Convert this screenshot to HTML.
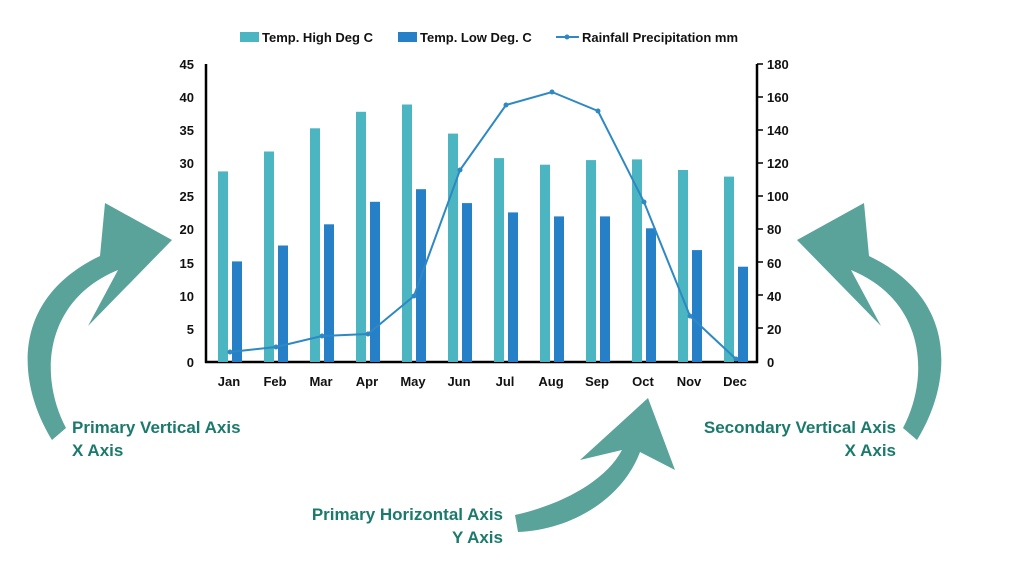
<!DOCTYPE html>
<html><head><meta charset="utf-8"><style>
html,body{margin:0;padding:0;background:#fff;}
svg{display:block;font-family:"Liberation Sans",Arial,sans-serif;}
</style></head><body>
<svg width="1024" height="576" viewBox="0 0 1024 576" xmlns="http://www.w3.org/2000/svg">
<!-- legend -->
<rect x="240" y="32" width="19" height="10" fill="#4bb5c1"/>
<text x="262" y="42" font-size="13" font-weight="bold" fill="#111">Temp. High Deg C</text>
<rect x="398" y="32" width="19" height="10" fill="#2680c8"/>
<text x="420" y="42" font-size="13" font-weight="bold" fill="#111">Temp. Low Deg. C</text>
<line x1="556" y1="37" x2="579" y2="37" stroke="#2e88c4" stroke-width="2"/>
<circle cx="567" cy="37" r="2.5" fill="#2e88c4"/>
<text x="582" y="42" font-size="13" font-weight="bold" fill="#111">Rainfall Precipitation mm</text>
<g id="bars"></g>
<!-- axes -->
<line x1="206" y1="64" x2="206" y2="363" stroke="#000" stroke-width="2.5"/>
<line x1="205" y1="362" x2="758" y2="362" stroke="#000" stroke-width="2.5"/>
<line x1="757" y1="64" x2="757" y2="363" stroke="#000" stroke-width="2.5"/>
<g font-size="13" font-weight="bold" fill="#111" text-anchor="end">
<text x="194" y="367">0</text><text x="194" y="334">5</text><text x="194" y="301">10</text><text x="194" y="268">15</text><text x="194" y="234">20</text><text x="194" y="201">25</text><text x="194" y="168">30</text><text x="194" y="135">35</text><text x="194" y="102">40</text><text x="194" y="69">45</text>
</g>
<g stroke="#000" stroke-width="1.5">
<line x1="757" y1="64" x2="763" y2="64"/><line x1="757" y1="97" x2="763" y2="97"/><line x1="757" y1="130" x2="763" y2="130"/><line x1="757" y1="163" x2="763" y2="163"/><line x1="757" y1="196" x2="763" y2="196"/><line x1="757" y1="229" x2="763" y2="229"/><line x1="757" y1="262" x2="763" y2="262"/><line x1="757" y1="295" x2="763" y2="295"/><line x1="757" y1="328" x2="763" y2="328"/>
</g>
<g font-size="13" font-weight="bold" fill="#111" text-anchor="start">
<text x="767" y="367">0</text><text x="767" y="334">20</text><text x="767" y="301">40</text><text x="767" y="268">60</text><text x="767" y="234">80</text><text x="767" y="201">100</text><text x="767" y="168">120</text><text x="767" y="135">140</text><text x="767" y="102">160</text><text x="767" y="69">180</text>
</g>
<g font-size="13" font-weight="bold" fill="#111" text-anchor="middle">
<text x="229" y="386">Jan</text><text x="275" y="386">Feb</text><text x="321" y="386">Mar</text><text x="367" y="386">Apr</text><text x="413" y="386">May</text><text x="459" y="386">Jun</text><text x="505" y="386">Jul</text><text x="551" y="386">Aug</text><text x="597" y="386">Sep</text><text x="643" y="386">Oct</text><text x="689" y="386">Nov</text><text x="735" y="386">Dec</text>
</g>
<!-- bars: high -->
<g fill="#4bb5c1">
<rect x="218" y="171.4" width="10" height="190.6"/>
<rect x="264" y="151.5" width="10" height="210.5"/>
<rect x="310" y="128.3" width="10" height="233.7"/>
<rect x="356" y="111.8" width="10" height="250.2"/>
<rect x="402" y="104.5" width="10" height="257.5"/>
<rect x="448" y="133.6" width="10" height="228.4"/>
<rect x="494" y="158.1" width="10" height="203.9"/>
<rect x="540" y="164.7" width="10" height="197.3"/>
<rect x="586" y="160.1" width="10" height="201.9"/>
<rect x="632" y="159.4" width="10" height="202.6"/>
<rect x="678" y="170.0" width="10" height="192.0"/>
<rect x="724" y="176.6" width="10" height="185.4"/>
</g>
<g fill="#2680c8">
<rect x="232" y="261.4" width="10" height="100.6"/>
<rect x="278" y="245.5" width="10" height="116.5"/>
<rect x="324" y="224.3" width="10" height="137.7"/>
<rect x="370" y="201.8" width="10" height="160.2"/>
<rect x="416" y="189.2" width="10" height="172.8"/>
<rect x="462" y="203.1" width="10" height="158.9"/>
<rect x="508" y="212.4" width="10" height="149.6"/>
<rect x="554" y="216.4" width="10" height="145.6"/>
<rect x="600" y="216.4" width="10" height="145.6"/>
<rect x="646" y="228.3" width="10" height="133.7"/>
<rect x="692" y="250.1" width="10" height="111.9"/>
<rect x="738" y="266.7" width="10" height="95.3"/>
</g>
<polyline fill="none" stroke="#2e88c4" stroke-width="2" points="230,352 276,347 322,336 368,334 414,296 460,170 506,105 552,92 598,111 644,202 690,316 736,359"/>
<g fill="#2e88c4">
<circle cx="230" cy="352" r="2.5"/><circle cx="276" cy="347" r="2.5"/><circle cx="322" cy="336" r="2.5"/><circle cx="368" cy="334" r="2.5"/><circle cx="414" cy="296" r="2.5"/><circle cx="460" cy="170" r="2.5"/><circle cx="506" cy="105" r="2.5"/><circle cx="552" cy="92" r="2.5"/><circle cx="598" cy="111" r="2.5"/><circle cx="644" cy="202" r="2.5"/><circle cx="690" cy="316" r="2.5"/><circle cx="736" cy="359" r="2.5"/>
</g>
<!-- arrows -->
<path id="la" fill="#5aa39a" d="M52,440 C18,385 8,300 100,256 L105,203 L172,240 L88,326 L118,270 C45,300 38,375 66,428 Z"/>
<path fill="#5aa39a" transform="translate(969,0) scale(-1,1)" d="M52,440 C18,385 8,300 100,256 L105,203 L172,240 L88,326 L118,270 C45,300 38,375 66,428 Z"/>
<path fill="#5aa39a" d="M515,515 C560,505 605,482 622,450 L580,460 L648,398 L675,470 L640,452 C622,500 570,530 518,532 Z"/>
<g font-size="17" font-weight="bold" fill="#1b7a6b">
<text x="72" y="433">Primary Vertical Axis</text>
<text x="72" y="456">X Axis</text>
<text x="896" y="433" text-anchor="end">Secondary Vertical Axis</text>
<text x="896" y="456" text-anchor="end">X Axis</text>
<text x="503" y="520" text-anchor="end">Primary Horizontal Axis</text>
<text x="503" y="543" text-anchor="end">Y Axis</text>
</g>
</svg>
</body></html>
